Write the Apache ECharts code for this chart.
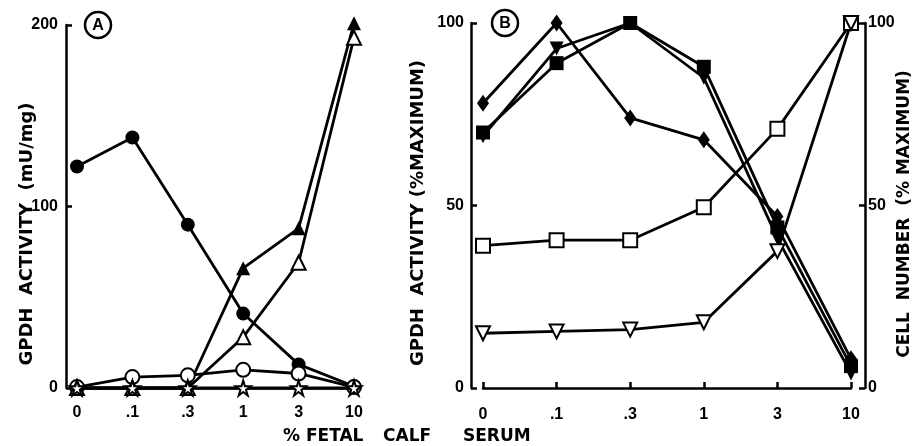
<!DOCTYPE html>
<html>
<head>
<meta charset="utf-8">
<script src="https://cdn.jsdelivr.net/npm/echarts@6/dist/echarts.min.js"></script>
<style>
html,body{margin:0;padding:0;background:#fff;}
#chart{width:915px;height:446px;}
</style>
</head>
<body>
<div id="chart"></div>
<script>
// Categories (% fetal calf serum)
var categories = ['0', '.1', '.3', '1', '3', '10'];

// Panel A: GPDH activity (mU/mg)
var aFilledCircle   = [122, 138, 90, 41, 13, 1];
var aOpenCircle     = [0.5, 6, 7, 10, 8, 0.5];
var aFilledTriangle = [0, 0, 0, 66, 88, 201];
var aOpenTriangle   = [0, 0, 0, 28, 69, 193];
var aStar           = [0, 0, 0, 0, 0, 0];
var aTicks = [0, 100, 200];

// Panel B: GPDH activity (% maximum), left axis
var bDiamond        = [78, 100, 74, 68, 47, 8];
var bFilledSquare   = [70, 89, 100, 88, 44, 6];
var bFilledTriDown  = [69, 93, 100, 85, 41, 4];
// Panel B: cell number (% maximum), right axis
var bOpenSquare     = [39, 40.5, 40.5, 49.5, 71, 100];
var bOpenTriDown    = [15, 15.5, 16, 18, 37.5, 100];
var bTicks = [0, 50, 100];

var FONT = 'Liberation Sans';
var TFONT = 'DejaVu Sans';
var STAR = 'path://M50,0 L61,35 L98,35 L68,57 L79,91 L50,70 L21,91 L32,57 L2,35 L39,35 Z';

function xAxisDef(grid, offset) {
  return {
    type: 'category', gridIndex: grid, data: categories, boundaryGap: false,
    offset: offset,
    axisLine: {show: true, lineStyle: {color: '#000', width: 2.5}},
    axisTick: {show: true, inside: true, length: 6, lineStyle: {color: '#000', width: 2.5}},
    axisLabel: {color: '#000', fontFamily: FONT, fontWeight: 'bold', fontSize: 16, margin: 5},
    splitLine: {show: false}
  };
}
function yAxisDef(grid, min, max, interval, offset, pos, margin) {
  return {
    type: 'value', gridIndex: grid, min: min, max: max, interval: interval,
    position: pos, offset: offset,
    axisLine: {show: true, lineStyle: {color: '#000', width: 2.5}},
    axisTick: {show: true, inside: true, length: 6, lineStyle: {color: '#000', width: 2.5}},
    axisLabel: {color: '#000', fontFamily: FONT, fontWeight: 'bold', fontSize: 16, margin: margin},
    splitLine: {show: false}
  };
}
function lineSeries(xi, yi, data, symbol, size, filled, extra) {
  var s = {
    type: 'line', xAxisIndex: xi, yAxisIndex: yi, data: data,
    symbol: symbol, symbolSize: size, showAllSymbol: true, clip: false,
    lineStyle: {color: '#000', width: 2.8},
    itemStyle: {color: filled ? '#000' : '#fff', borderColor: '#000', borderWidth: filled ? 0 : 2},
    emphasis: {disabled: true}, animation: false
  };
  if (extra) for (var k in extra) s[k] = extra[k];
  return s;
}

var chart = echarts.init(document.getElementById('chart'));
chart.setOption({
  backgroundColor: '#fff',
  animation: false,
  grid: [
    {left: 77, top: 25, width: 277, height: 363},
    {left: 483, top: 23, width: 368, height: 365}
  ],
  xAxis: [xAxisDef(0, 12), xAxisDef(1, 14)],
  yAxis: [
    yAxisDef(0, aTicks[0], aTicks[2], aTicks[1] - aTicks[0], 11, 'left', 8),
    yAxisDef(1, bTicks[0], bTicks[2], bTicks[1] - bTicks[0], 12, 'left', 7),
    yAxisDef(1, bTicks[0], bTicks[2], bTicks[1] - bTicks[0], 14, 'right', 3)
  ],
  series: [
    lineSeries(0, 0, aFilledCircle, 'circle', 14, true),
    lineSeries(0, 0, aOpenCircle, 'circle', 14, false),
    lineSeries(0, 0, aFilledTriangle, 'triangle', 14, true),
    lineSeries(0, 0, aOpenTriangle, 'triangle', 14, false),
    lineSeries(0, 0, aStar, STAR, 15, false, {z: 5}),
    lineSeries(1, 2, bOpenSquare, 'rect', 14, false),
    lineSeries(1, 2, bOpenTriDown, 'triangle', 14, false, {symbolRotate: 180}),
    lineSeries(1, 1, bDiamond, 'diamond', [12, 17], true),
    lineSeries(1, 1, bFilledSquare, 'rect', 14, true),
    lineSeries(1, 1, bFilledTriDown, 'triangle', 14, true, {symbolRotate: 180})
  ],
  graphic: [
    {type: 'circle', shape: {cx: 98, cy: 25, r: 13}, style: {fill: '#fff', stroke: '#000', lineWidth: 2.5}},
    {type: 'text', x: 98, y: 26, style: {text: 'A', fontFamily: FONT, fontWeight: 'bold', fontSize: 16, fill: '#000', align: 'center', verticalAlign: 'middle'}},
    {type: 'circle', shape: {cx: 505, cy: 23, r: 13}, style: {fill: '#fff', stroke: '#000', lineWidth: 2.5}},
    {type: 'text', x: 505, y: 24, style: {text: 'B', fontFamily: FONT, fontWeight: 'bold', fontSize: 16, fill: '#000', align: 'center', verticalAlign: 'middle'}},
    {type: 'text', x: 27, y: 234, rotation: Math.PI / 2, style: {text: 'GPDH  ACTIVITY  (mU/mg)', fontFamily: TFONT, fontWeight: 'bold', fontSize: 18, fill: '#000', align: 'center', verticalAlign: 'middle'}},
    {type: 'text', x: 418, y: 213, rotation: Math.PI / 2, style: {text: 'GPDH  ACTIVITY (%MAXIMUM)', fontFamily: TFONT, fontWeight: 'bold', fontSize: 18, fill: '#000', align: 'center', verticalAlign: 'middle'}},
    {type: 'text', x: 905, y: 214, rotation: Math.PI / 2, style: {text: 'CELL  NUMBER  (% MAXIMUM)', fontFamily: TFONT, fontWeight: 'bold', fontSize: 17, fill: '#000', align: 'center', verticalAlign: 'middle'}},
    {type: 'text', x: 283, y: 437, style: {text: '% FETAL', fontFamily: TFONT, fontWeight: 'bold', fontSize: 17, fill: '#000', align: 'left', verticalAlign: 'middle'}},
    {type: 'text', x: 383, y: 437, style: {text: 'CALF', fontFamily: TFONT, fontWeight: 'bold', fontSize: 17, fill: '#000', align: 'left', verticalAlign: 'middle'}},
    {type: 'text', x: 463, y: 437, style: {text: 'SERUM', fontFamily: TFONT, fontWeight: 'bold', fontSize: 17, fill: '#000', align: 'left', verticalAlign: 'middle'}}
  ]
});
</script>
</body>
</html>
